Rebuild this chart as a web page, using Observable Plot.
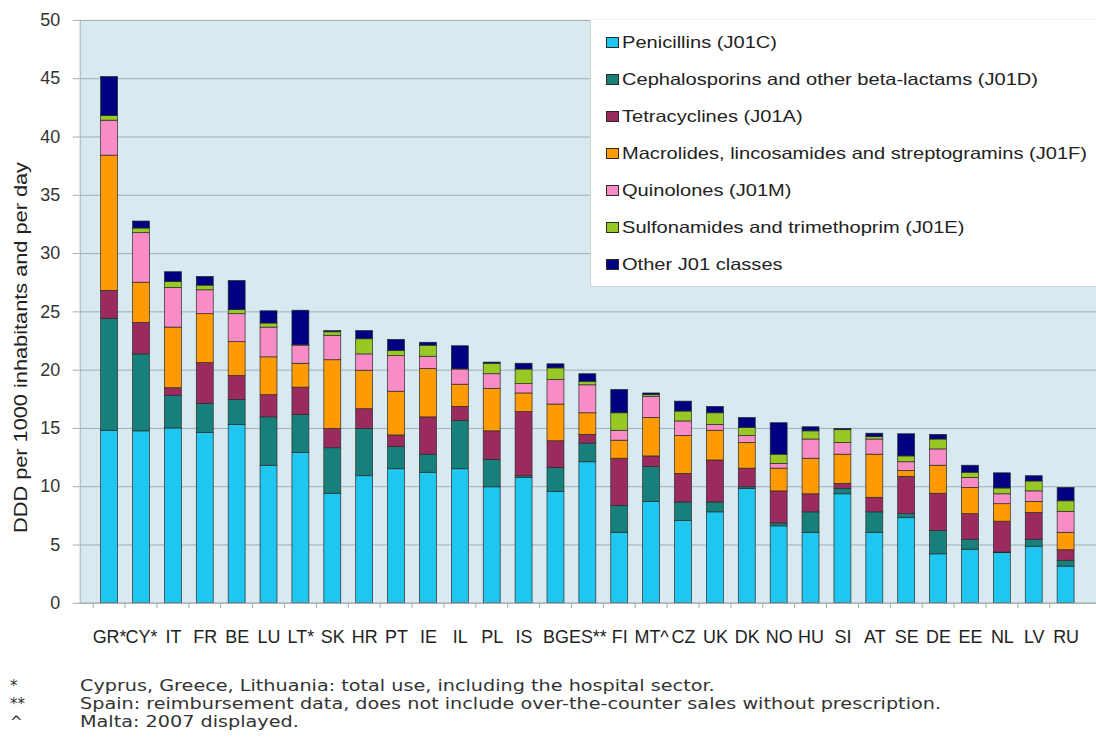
<!DOCTYPE html>
<html><head><meta charset="utf-8">
<script src="https://cdn.jsdelivr.net/npm/d3@7"></script>
<script src="https://cdn.jsdelivr.net/npm/@observablehq/plot@0.6"></script>
<style>
html,body{margin:0;padding:0;background:#fff;overflow:hidden}
#wrap{position:relative;width:1096px;height:755px;overflow:hidden;font-family:"Liberation Sans",Arial,sans-serif;color:#222}
#chart{position:absolute;left:0;top:0}
#legend{position:absolute;left:590px;top:20px;width:520px;height:267px;background:#fff;border-left:1px solid #cdd5da;border-bottom:1px solid #cdd5da;box-sizing:border-box}
.item{position:absolute;left:15px;height:20px;display:flex;align-items:center;white-space:nowrap}
.sw{width:11px;height:9px;border:1px solid #2a2a2a;flex:none}
.lt{display:inline-block;font-size:16.5px;color:#222;transform-origin:0 50%;margin-left:3px}
#ylabel{position:absolute;left:22px;top:347px;white-space:nowrap;font-size:18px;color:#222}
.note{position:absolute;left:0;font-family:"DejaVu Sans",Verdana,sans-serif;font-size:15px;color:#333;white-space:nowrap}
.sym{position:absolute;left:10px}
.ntx{position:absolute;left:80px;transform-origin:0 50%;display:inline-block}
</style></head>
<body>
<div id="wrap">
  <div id="chart"></div>
  <div id="legend"></div>
  <div id="ylabel">DDD per 1000 inhabitants and per day</div>
</div>
<script>
const countries = ["GR*","CY*","IT","FR","BE","LU","LT*","SK","HR","PT","IE","IL","PL","IS","BG","ES**","FI","MT^","CZ","UK","DK","NO","HU","SI","AT","SE","DE","EE","NL","LV","RU"];
const classes = ["Penicillins (J01C)","Cephalosporins and other beta-lactams (J01D)","Tetracyclines (J01A)","Macrolides, lincosamides and streptogramins (J01F)","Quinolones (J01M)","Sulfonamides and trimethoprim (J01E)","Other J01 classes"];
const colors = ["#1ec6f0","#18807a","#9b2b5e","#ff9a00","#f78cc6","#98c824","#000080"];
const penicillins    = [14.8,14.75,15.0,14.6,15.3,11.8,12.9,9.4,10.9,11.5,11.2,11.5,9.95,10.75,9.55,12.1,6.05,8.7,7.05,7.8,9.8,6.6,6.05,9.35,6.05,7.3,4.2,4.6,4.3,4.85,3.15];
const cephalosporins = [9.6,6.6,2.8,2.5,2.15,4.15,3.25,3.9,4.05,1.9,1.55,4.15,2.35,0.15,2.05,1.6,2.3,3.0,1.6,0.85,0.15,0.25,1.75,0.45,1.75,0.35,2.0,0.85,0.05,0.6,0.5];
const tetracyclines  = [2.4,2.7,0.65,3.5,2.05,1.9,2.35,1.65,1.7,1.0,3.2,1.2,2.45,5.5,2.3,0.75,4.05,0.9,2.45,3.6,1.6,2.75,1.55,0.45,1.25,3.2,3.2,2.2,2.65,2.3,0.9];
const macrolides     = [11.6,3.45,5.2,4.2,2.9,3.25,2.05,5.9,3.3,3.75,4.15,1.9,3.65,1.6,3.15,1.85,1.55,3.3,3.25,2.55,2.2,1.95,3.05,2.5,3.7,0.5,2.4,2.25,1.5,0.95,1.5];
const quinolones     = [3.0,4.25,3.4,2.05,2.4,2.55,1.55,2.1,1.4,3.05,1.05,1.3,1.25,0.8,2.1,2.4,0.85,1.8,1.25,0.5,0.6,0.4,1.65,1.0,1.3,0.75,1.4,0.85,0.85,0.9,1.8];
const sulfonamides   = [0.4,0.4,0.5,0.4,0.35,0.35,0.05,0.3,1.3,0.45,0.95,0.05,0.9,1.25,1.0,0.3,1.5,0.15,0.85,1.0,0.7,0.8,0.7,1.1,0.2,0.5,0.85,0.45,0.5,0.85,0.9];
const others         = [3.35,0.6,0.85,0.75,2.5,1.05,2.95,0.1,0.7,0.95,0.25,1.95,0.1,0.5,0.35,0.65,2.0,0.15,0.85,0.55,0.85,2.7,0.35,0.1,0.3,1.9,0.4,0.6,1.3,0.45,1.15];
const yTicks = [0,5,10,15,20,25,30,35,40,45,50];
const notes = [
  ["*","Cyprus, Greece, Lithuania: total use, including the hospital sector."],
  ["**","Spain: reimbursement data, does not include over-the-counter sales without prescription."],
  ["^","Malta: 2007 displayed."]
];

const series = [penicillins,cephalosporins,tetracyclines,macrolides,quinolones,sulfonamides,others];
const data = [];
countries.forEach((c,i)=>series.forEach((s,j)=>data.push({country:c,cls:classes[j],value:s[i]})));

const bg = "#d9e9f0", grid = "#a3adb5";
const step = 1020/31;

const chart = Plot.plot({
  width: 1100, height: 655,
  marginLeft: 80, marginRight: 0, marginTop: 20, marginBottom: 50,
  style: {fontFamily: "'Liberation Sans', Arial, sans-serif", fontSize: "18px", color: "#333", background: "transparent"},
  x: {domain: countries, padding: 0.46, axis: null},
  y: {domain: [0,50], axis: null},
  color: {domain: classes, range: colors},
  marks: [
    Plot.frame({fill: bg, stroke: null}),
    Plot.ruleY(yTicks, {stroke: grid, strokeWidth: 1}),
    Plot.barY(data, {x: "country", y: "value", fill: "cls", stroke: "#2a2a2a", strokeWidth: 0.7}),
    Plot.ruleY([0], {stroke: "#9aa2a8"}),
    Plot.ruleX(countries, {x: d=>d, y1: 0, y2: -0.45, dx: -step/2, stroke: "#a0a8ae"}),
    Plot.frame({stroke: "#aab2b8", fill: null}),
    Plot.axisY(yTicks, {tickSize: 7, tickPadding: 13, stroke: grid, fill: "#333", fontSize: 18, label: null}),
    Plot.axisX({tickSize: 0, tickPadding: 27, fill: "#222", fontSize: 18, label: null})
  ]
});
document.getElementById("chart").appendChild(chart);

// legend
const leg = document.getElementById("legend");
const spans = [];
classes.forEach((c,i)=>{
  const it = document.createElement("div");
  it.className = "item";
  it.style.top = (22 + i*37.1 - 10) + "px";
  const sw = document.createElement("div"); sw.className="sw"; sw.style.background = colors[i];
  const t = document.createElement("span"); t.className="lt"; t.textContent = c;
  it.appendChild(sw); it.appendChild(t); leg.appendChild(it); spans.push(t);
});
const longest = spans[3].getBoundingClientRect().width;
const ls = 465/longest;
spans.forEach(s=>s.style.transform = `scaleX(${ls})`);

// y label
const yl = document.getElementById("ylabel");
const yw = yl.getBoundingClientRect().width, yh = yl.getBoundingClientRect().height;
const ys = 371/yw;
yl.style.left = (22 - yw/2) + "px";
yl.style.top = (347 - yh/2) + "px";
yl.style.transform = `rotate(-90deg) scaleX(${ys})`;

// notes
const wrap = document.getElementById("wrap");
const ntx = [];
notes.forEach((n,i)=>{
  const d = document.createElement("div"); d.className="note"; d.style.top = (677 + i*18) + "px";
  const s = document.createElement("span"); s.className="sym"; s.textContent = n[0];
  const t = document.createElement("span"); t.className="ntx"; t.textContent = n[1];
  d.appendChild(s); d.appendChild(t); wrap.appendChild(d); ntx.push(t);
});
const nw = ntx[1].getBoundingClientRect().width;
const ns = 861/nw;
ntx.forEach(t=>t.style.transform = `scaleX(${ns})`);
</script>
</body></html>
